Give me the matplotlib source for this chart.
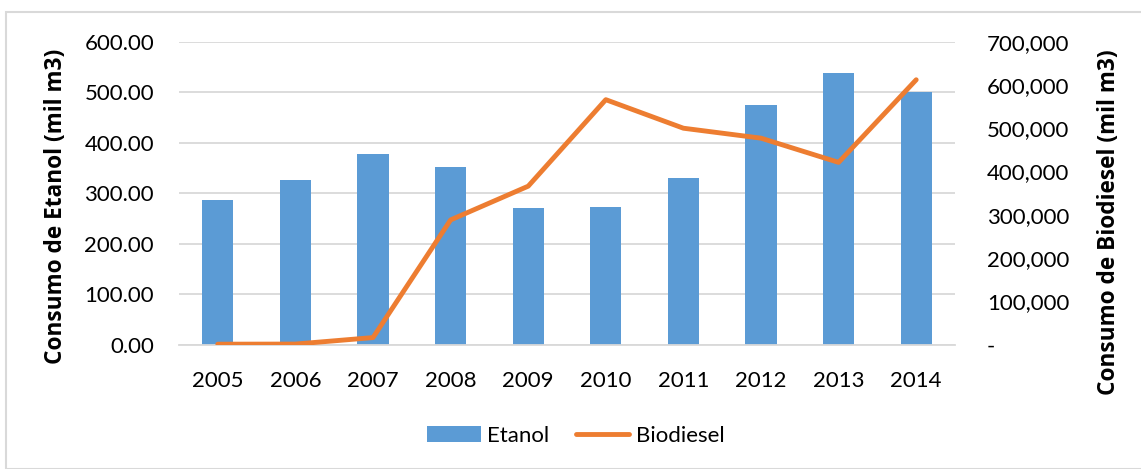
import matplotlib
matplotlib.use("Agg")
import matplotlib.pyplot as plt
from matplotlib.patches import Rectangle, Patch
from matplotlib.lines import Line2D
from matplotlib.ticker import FuncFormatter

years = ["2005", "2006", "2007", "2008", "2009", "2010", "2011", "2012", "2013", "2014"]
etanol = [286, 326, 377, 351, 270, 272, 329, 475, 537, 501]
biodiesel = [736, 1000, 16000, 288000, 366000, 566000, 500000, 477000, 421000, 612000]

plt.rcParams['font.family'] = ['Lato', 'DejaVu Sans']

fig = plt.figure(figsize=(11.41, 4.69), dpi=100)
fig.patches.append(Rectangle((6/1141, 0), 1, 1 - 12/469, transform=fig.transFigure,
                             fill=False, edgecolor='#d9d9d9', linewidth=1.5))
ax = fig.add_axes([179/1141, 1 - 344.5/469, (955-179)/1141, (344.5-41.7)/469])
x = list(range(len(years)))
ax.bar(x, etanol, width=0.4, color='#5b9bd5', zorder=2)
ax.set_ylim(0, 600)
ax.set_xlim(-0.5, len(years) - 0.5)
ax.set_yticks([0, 100, 200, 300, 400, 500, 600])
ax.yaxis.set_major_formatter(FuncFormatter(lambda v, p: f"{v:.2f}"))
ax.set_xticks(x)
ax.set_xticklabels(years)
ax.grid(axis='y', color='#d9d9d9', linewidth=1.3, zorder=0)
ax.set_axisbelow(True)
for s in ['top', 'right', 'left']:
    ax.spines[s].set_visible(False)
ax.spines['bottom'].set_color('#d9d9d9')
ax.spines['bottom'].set_linewidth(1.3)
ax.tick_params(length=0, labelsize=16, colors='#000000', pad=18)
ax.tick_params(axis='x', pad=19)
ax.set_ylabel("Consumo de Etanol (mil m3)", fontsize=16.3, fontweight='bold',
              family=['Open Sans', 'DejaVu Sans'])
ax.yaxis.set_label_coords((68 - 179) / 776, (344.5 - 206) / 302.8)

ax2 = ax.twinx()
ax2.plot(x, biodiesel, color='#ed7d31', linewidth=3.5, solid_capstyle='round', zorder=3)
ax2.set_ylim(0, 700000)
ax2.set_yticks([0, 100000, 200000, 300000, 400000, 500000, 600000, 700000])
ax2.yaxis.set_major_formatter(FuncFormatter(lambda v, p: "-" if v == 0 else f"{int(v):,}"))
for s in ['top', 'right', 'left', 'bottom']:
    ax2.spines[s].set_visible(False)
ax2.tick_params(length=0, labelsize=16, colors='#000000', pad=23)
ax2.set_ylabel("Consumo de Biodiesel (mil m3)", fontsize=16.3, fontweight='bold',
               family=['Open Sans', 'DejaVu Sans'])
ax2.yaxis.set_label_coords((1097 - 179) / 776, (344.5 - 222) / 302.8)

handles = [Patch(facecolor='#5b9bd5', label='Etanol'),
           Line2D([0], [0], color='#ed7d31', linewidth=3.5, solid_capstyle='round', label='Biodiesel')]
fig.legend(handles=handles, loc='center', bbox_to_anchor=(576/1141, 1 - 436/469), ncol=2,
           frameon=False, fontsize=16, handlelength=2.4, handletextpad=0.3, columnspacing=1.2)

fig.savefig("out.png", dpi=100)
